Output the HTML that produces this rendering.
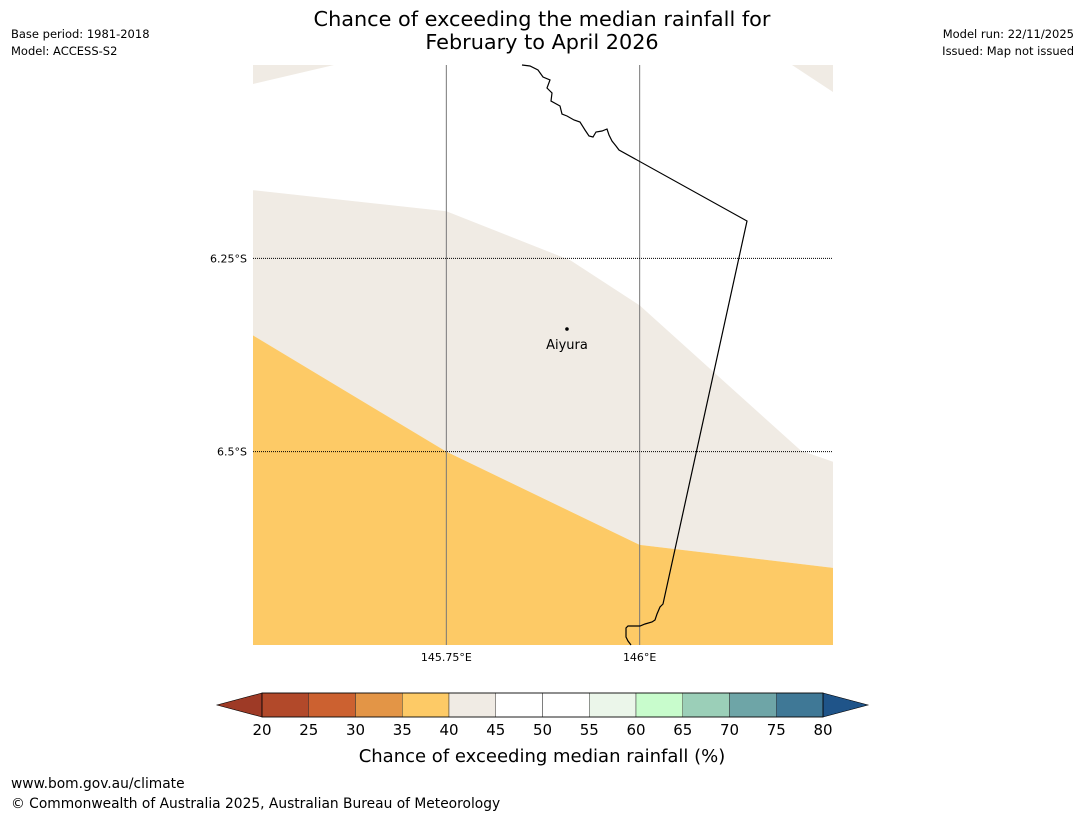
<!DOCTYPE html>
<html><head><meta charset="utf-8"><style>
body{margin:0;background:#fff;font-family:"Liberation Sans","DejaVu Sans",sans-serif}
svg text{font-family:"DejaVu Sans","Liberation Sans",sans-serif}
</style></head><body>
<svg id="c" width="1085" height="816" viewBox="0 0 1085 816" xmlns="http://www.w3.org/2000/svg">
<text x="542" y="26" font-size="20.8" text-anchor="middle">Chance of exceeding the median rainfall for</text>
<text x="542" y="49" font-size="20.8" text-anchor="middle">February to April 2026</text>
<text x="11" y="38" font-size="11.5">Base period: 1981-2018</text>
<text x="11" y="55" font-size="11.5">Model: ACCESS-S2</text>
<text x="1074" y="38" font-size="11.5" text-anchor="end">Model run: 22/11/2025</text>
<text x="1074" y="55" font-size="11.5" text-anchor="end">Issued: Map not issued</text>
<g id="map"></g>
<g id="cb"></g>
<text x="542" y="762" font-size="18" text-anchor="middle">Chance of exceeding median rainfall (%)</text>
<text x="11" y="788" font-size="13.8">www.bom.gov.au/climate</text>
<text x="11" y="808" font-size="13.8">© Commonwealth of Australia 2025, Australian Bureau of Meteorology</text>
</svg>
<script>
// map extent and data
const lonTicks=[145.75,146.0];
const lonTickLabels=["145.75°E","146°E"];
const latTicks=[-6.25,-6.5];
const latTickLabels=["6.25°S","6.5°S"];
const upperLon=[145.5,145.75,145.9106,146.0,146.2085,146.25];
const upperLat=[-6.1619,-6.1891,-6.2526,-6.3109,-6.4987,-6.513];
const lowerLon=[145.5,145.75,146.0,146.25];
const lowerLat=[-6.3497,-6.5,-6.6205,-6.6503];
const cbBounds=[20,25,30,35,40,45,50,55,60,65,70,75,80];
const cbColors=["#b2492a","#cc6130","#e39546","#fdca66","#f0ebe4","#ffffff","#ffffff","#ebf6ea","#c8fccc","#9bcfb8","#6ea5a7","#3f7896"];
const town={name:"Aiyura",lon:145.906,lat:-6.3414};

const X0=253,X1=833,Y0=65,Y1=645,LON0=145.5,LON1=146.25,LAT0=-6.0,LAT1=-6.75;
const xs=l=>X0+(l-LON0)/(LON1-LON0)*(X1-X0);
const ys=l=>Y0+(l-LAT0)/(LAT1-LAT0)*(Y1-Y0);
const NS="http://www.w3.org/2000/svg";
const map=document.getElementById('map');
function mk(tag,attrs,parent){const e=document.createElementNS(NS,tag);for(const k in attrs)e.setAttribute(k,attrs[k]);parent.appendChild(e);return e;}
const up=upperLon.map((l,i)=>xs(l)+","+ys(upperLat[i]));
const lo=lowerLon.map((l,i)=>xs(l)+","+ys(lowerLat[i]));
let p=mk('polygon',{points:up.join(" ")+" "+lo.slice().reverse().join(" "),fill:"#f0ebe4"},map);


p=mk('polygon',{points:lo.join(" ")+` ${X1},${Y1} ${X0},${Y1}`,fill:"#fdca66"},map);


p=mk('polygon',{points:`253,65 334,65 253,84`,fill:"#f0ebe4"},map);


p=mk('polygon',{points:`792,65 833,65 833,92`,fill:"#f0ebe4"},map);


lonTicks.forEach((l,i)=>{
 let g=mk('line',{x1:xs(l),x2:xs(l),y1:Y0,y2:Y1,stroke:"#777","stroke-width":1},map);
 
 
 let t=mk('text',{x:xs(l),y:661,"font-size":11,"text-anchor":"middle"},map);t.textContent=lonTickLabels[i];
 
 
});
latTicks.forEach((l,i)=>{
 let g=mk('line',{x1:X0,x2:X1,y1:ys(l),y2:ys(l),stroke:"#000","stroke-width":1,"stroke-dasharray":"1,1"},map);
 
 
 let t=mk('text',{x:247,y:ys(l)+4,"font-size":11,"text-anchor":"end"},map);t.textContent=latTickLabels[i];
 
 
});
let c=mk('polyline',{points:"522,65 530,66 538,70 543,77 550,80 547,88 552,93 551,101 560,106 562,114 567,116 574,120 580,122 585,130 589,136 593,137 596,132 602,131 607,129 609,135 612,141 616,146 619,150 747,221 663,604 660,607 657,614 655,620 652,622 645,624 640,626 628,626 626,628 626,637 628,641 631,645",fill:"none",stroke:"#000","stroke-width":1.2},map);


let d=mk('circle',{cx:xs(town.lon),cy:ys(town.lat),r:1.8,fill:"#000"},map);


let tt=mk('text',{x:xs(town.lon),y:ys(town.lat)+20,"font-size":13,"text-anchor":"middle"},map);tt.textContent=town.name;


// colorbar
const cb=document.getElementById('cb');
const C0=262,C1=823,CY=693,CH=24;
const cx=v=>C0+(v-cbBounds[0])/(cbBounds[cbBounds.length-1]-cbBounds[0])*(C1-C0);
let tr=mk('polygon',{points:`${C0},${CY} ${C0},${CY+CH} 217,${CY+CH/2}`,fill:"#9e3a26",stroke:"#000","stroke-width":0.6},cb);


tr=mk('polygon',{points:`${C1},${CY} ${C1},${CY+CH} 868,${CY+CH/2}`,fill:"#1f5489",stroke:"#000","stroke-width":0.6},cb);


cbColors.forEach((col,i)=>{
 let r=mk('rect',{x:cx(cbBounds[i]),y:CY,width:cx(cbBounds[i+1])-cx(cbBounds[i]),height:CH,fill:col,stroke:"#333","stroke-width":0.5},cb);
 
 
});
mk('rect',{x:C0,y:CY,width:C1-C0,height:CH,fill:"none",stroke:"#000","stroke-width":0.8},cb);
cbBounds.forEach(v=>{
 let t=mk('text',{x:cx(v),y:735,"font-size":15,"text-anchor":"middle"},cb);t.textContent=v;
 
 
});
</script>
</body></html>
